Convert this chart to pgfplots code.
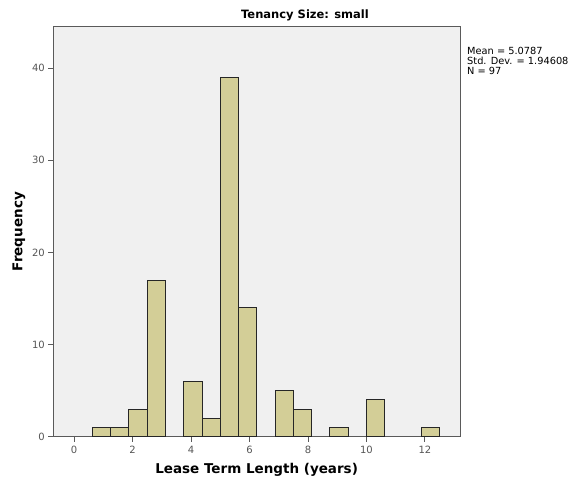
\documentclass[border=0pt]{standalone}
\usepackage{pgfplots}
\pgfplotsset{compat=1.18}
\usepackage{fontspec}
\setmainfont{DejaVu Sans}
\definecolor{barfill}{HTML}{D3CE97}
\definecolor{panel}{HTML}{F0F0F0}
\definecolor{tickgray}{HTML}{555555}
\definecolor{framegray}{HTML}{5A5A5A}
\begin{document}
\begin{tikzpicture}[x=1pt,y=1pt]
% page frame: the axis box sits with its lower left corner at the origin
\useasboundingbox (-53.3,-47.3) rectangle (522.7,436.7);
\begin{axis}[
  anchor=south west,
  scale only axis, width=406.7pt, height=410pt,
  xmin=-0.71, xmax=13.2, ymin=0, ymax=44.5,
  axis background/.style={fill=panel},
  axis line style={framegray, line width=0.9pt},
  xtick={0,2,...,12}, ytick={0,10,20,30,40},
  tick align=outside, tick pos=left,
  major tick length=5pt,
  tick style={framegray, line width=0.9pt},
  ticklabel style={font=\fontsize{10}{12}\selectfont, text=tickgray},
  xticklabel style={yshift=-1pt},
  /pgf/number format/assume math mode=true,
  xlabel={\bfseries Lease Term Length (years)},
  ylabel={\bfseries Frequency},
  xlabel style={font=\fontsize{13.5}{15}\selectfont, yshift=-3pt},
  ylabel style={font=\fontsize{13.5}{15}\selectfont},
  ybar, bar width=0.625, bar shift=0pt,
]
\addplot[fill=barfill, draw=black!85, line width=0.8pt] coordinates {
  (0.9375,1) (1.5625,1) (2.1875,3) (2.8125,17)
  (4.0625,6) (4.6875,2) (5.3125,39) (5.9375,14)
  (7.1875,5) (7.8125,3) (9.0625,1) (10.3125,4) (12.1875,1)
};
\end{axis}
\node[font=\bfseries\fontsize{11.5}{13}\selectfont] at (251.7,421.5) {Tenancy Size: small};
\node[anchor=north west, align=left, inner sep=0pt,
      font=\fontsize{9.8}{10}\selectfont] at (413.7,390)
  {Mean = 5.0787\\Std. Dev. = 1.94608\\N = 97};
\end{tikzpicture}
\end{document}
